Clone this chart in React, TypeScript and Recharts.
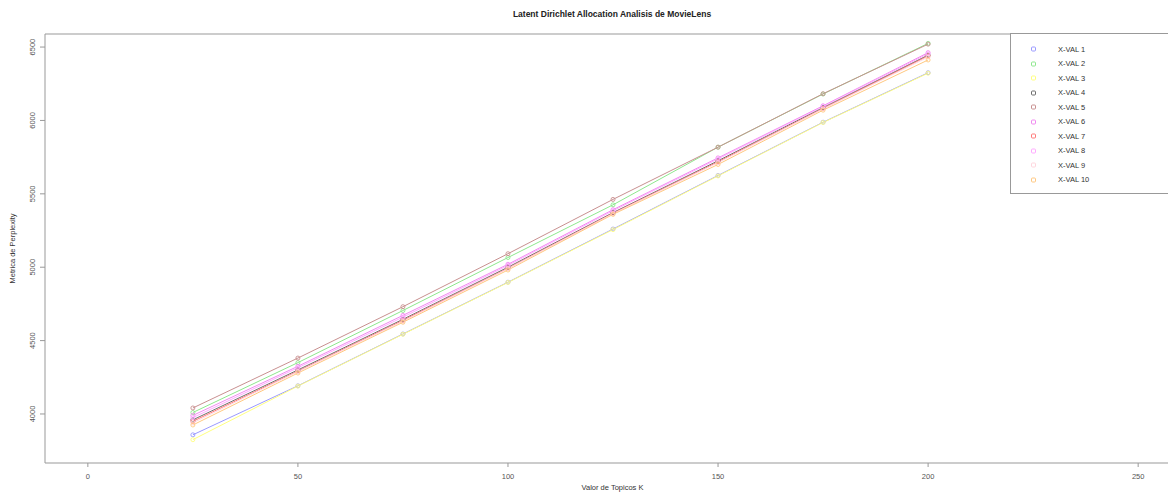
import React from 'react';
import { LineChart, Line, XAxis, YAxis, ReferenceLine } from 'recharts';

const topicsK = [25, 50, 75, 100, 125, 150, 175, 200];

const xval1 = [3858, 4192, 4545, 4898, 5260, 5625, 5988, 6325];
const xval2 = [4010, 4350, 4705, 5066, 5425, 5818, 6180, 6525];
const xval3 = [3825, 4190, 4543, 4896, 5256, 5622, 5986, 6322];
const xval4 = [3960, 4300, 4645, 5000, 5372, 5725, 6088, 6445];
const xval5 = [4041, 4381, 4731, 5092, 5462, 5818, 6182, 6520];
const xval6 = [3990, 4325, 4672, 5020, 5392, 5745, 6100, 6462];
const xval7 = [3950, 4292, 4638, 4993, 5368, 5718, 6082, 6440];
const xval8 = [3975, 4315, 4660, 5012, 5385, 5738, 6095, 6455];
const xval9 = [3940, 4288, 4632, 4990, 5365, 5712, 6078, 6432];
const xval10 = [3925, 4279, 4625, 4981, 5360, 5700, 6070, 6412];

const seriesNames = ['X-VAL 1', 'X-VAL 2', 'X-VAL 3', 'X-VAL 4', 'X-VAL 5', 'X-VAL 6', 'X-VAL 7', 'X-VAL 8', 'X-VAL 9', 'X-VAL 10'];
const seriesValues = [xval1, xval2, xval3, xval4, xval5, xval6, xval7, xval8, xval9, xval10];
const colors = ['#9a9aff', '#8ee88e', '#ffff80', '#6e6e6e', '#c89090', '#f08af0', '#ff7a7a', '#ffaaff', '#ffd6de', '#ffc880'];

const xTicks = [0, 50, 100, 150, 200, 250];
const yTicks = [4000, 4500, 5000, 5500, 6000, 6500];

const X_MIN = -10.2;
const X_MAX = 257.1;
const Y_MIN = 3666;
const Y_MAX = 6589;

const data = topicsK.map((k, i) => {
  const row: Record<string, number> = { k };
  seriesNames.forEach((name, s) => {
    row[name] = seriesValues[s][i];
  });
  return row;
});

const FONT = '"Liberation Sans", Arial, sans-serif';

const YTick = (props: any) => {
  const { x, y, payload } = props;
  const bx = x - 3;
  return (
    <text x={bx} y={y} transform={`rotate(-90 ${bx} ${y})`} textAnchor="middle" fontSize={7.5} fill="#555" fontFamily={FONT}>
      {payload.value}
    </text>
  );
};

export default function App() {
  return (
    <div style={{ position: 'absolute', left: 0, top: 0, width: 1168, height: 493, background: '#fff', overflow: 'hidden', fontFamily: FONT }}>
      <div style={{ position: 'absolute', left: 0, width: 1224, top: 9, textAlign: 'center', fontSize: 8.5, fontWeight: 'bold', color: '#222' }}>
        Latent Dirichlet Allocation Analisis de MovieLens
      </div>
      <LineChart width={1168} height={493} data={data} margin={{ top: 34, right: 0, bottom: 0, left: 0 }}>
        <XAxis
          type="number"
          dataKey="k"
          domain={[X_MIN, X_MAX]}
          ticks={xTicks}
          allowDataOverflow
          height={30}
          tickSize={4}
          tickMargin={7}
          stroke="#999"
          tick={{ fontSize: 7.5, fill: '#555', fontFamily: FONT }}
          label={{ value: 'Valor de Topicos K', position: 'bottom', offset: -8, fontSize: 7.5, fill: '#333', fontFamily: FONT, dx: 6 }}
        />
        <YAxis
          type="number"
          domain={[Y_MIN, Y_MAX]}
          ticks={yTicks}
          allowDataOverflow
          width={45}
          tickSize={5}
          stroke="#999"
          tick={<YTick />}
          label={{ value: 'Metrica de Perplexity', angle: -90, position: 'insideLeft', offset: 12, fontSize: 7.5, fill: '#333', fontFamily: FONT, style: { textAnchor: 'middle' } }}
        />
        <ReferenceLine y={Y_MAX} stroke="#999" />
        {seriesNames.map((name, s) => (
          <Line
            key={name}
            type="linear"
            dataKey={name}
            stroke={colors[s]}
            strokeWidth={1}
            dot={{ r: 2, fill: 'none', stroke: colors[s], strokeWidth: 0.9 }}
            isAnimationActive={false}
          />
        ))}
      </LineChart>
      <div style={{ position: 'absolute', left: 1010, top: 33, width: 170, height: 161, border: '1px solid #999', boxSizing: 'border-box', background: '#fff' }}>
        {seriesNames.map((name, s) => (
          <div key={name} style={{ position: 'absolute', left: 0, top: 10 + s * 14.5, height: 10, display: 'flex', alignItems: 'center', fontSize: 7.5, color: '#333' }}>
            <svg width={50} height={10}>
              <rect x={20.5} y={3} width={4} height={4} rx={1} fill="none" stroke={colors[s]} strokeWidth={1} />
            </svg>
            <span style={{ marginLeft: -3 }}>{name}</span>
          </div>
        ))}
      </div>
    </div>
  );
}
